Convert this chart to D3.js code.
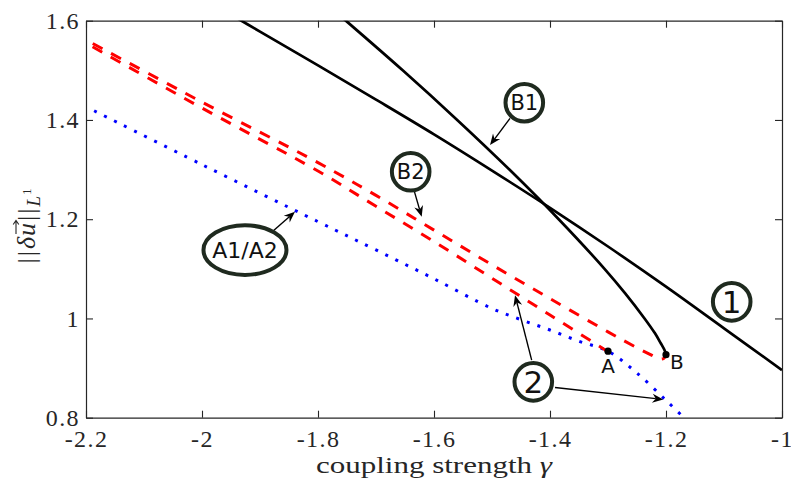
<!DOCTYPE html>
<html>
<head>
<meta charset="utf-8">
<script src="https://cdn.jsdelivr.net/npm/d3@7"></script>
<style>
  body { margin: 0; background: #fff; }
  svg { display: block; }
</style>
</head>
<body>
<svg id="chart" width="791" height="486"></svg>
<script>
// ---- Branch data: coupling strength gamma vs. L1 norm of the perturbation ----

// Branch 1 (stable, solid black, straight-ish)
const branch1Gamma = [-1.96, -1.9, -1.8, -1.7, -1.6, -1.5, -1.4, -1.3, -1.2, -1.1, -1.0];
const branch1Norm  = [1.619, 1.578, 1.510, 1.441, 1.371, 1.298, 1.223, 1.145, 1.064, 0.980, 0.896];

// Branch B1 (stable, solid black, ends in fold B)
const branchB1Gamma = [-1.772, -1.752, -1.654, -1.560, -1.470, -1.385, -1.306, -1.270, -1.237, -1.219, -1.209, -1.202, -1.200];
const branchB1Norm  = [1.620, 1.600, 1.500, 1.400, 1.300, 1.200, 1.100, 1.050, 1.000, 0.970, 0.950, 0.935, 0.928];

// Branch B2 (unstable, red dashed, leaves fold B)
const branchB2Gamma = [-2.22, -2.0, -1.8, -1.7, -1.6, -1.5, -1.4, -1.3, -1.25, -1.225, -1.212, -1.204, -1.200];
const branchB2Norm  = [1.574, 1.436, 1.314, 1.248, 1.178, 1.108, 1.040, 0.973, 0.941, 0.926, 0.9185, 0.9195, 0.927];

// Branch 2 (unstable, red dashed, ends at A)
const branch2Gamma = [-2.22, -2.0, -1.8, -1.7, -1.6, -1.5, -1.4, -1.3];
const branch2Norm  = [1.568, 1.424, 1.297, 1.226, 1.155, 1.081, 1.007, 0.933];

// Branch A1/A2 (blue dotted)
const branchAGamma = [-2.186, -2.0, -1.8, -1.7, -1.6, -1.5, -1.45, -1.4, -1.35, -1.3, -1.25, -1.2, -1.17, -1.16];
const branchANorm  = [1.4185, 1.310, 1.195, 1.138, 1.080, 1.020, 0.9975, 0.9767, 0.954, 0.934, 0.890, 0.835, 0.801, 0.789];

// Bifurcation points
const pointNames = ["A", "B"];
const pointGamma = [-1.3, -1.2];
const pointNorm  = [0.934, 0.927];

// Axis ticks
const xTicks = [-2.2, -2, -1.8, -1.6, -1.4, -1.2, -1];
const xTickLabels = ["-2.2", "-2", "-1.8", "-1.6", "-1.4", "-1.2", "-1"];
const yTicks = [0.8, 1, 1.2, 1.4, 1.6];
const yTickLabels = ["0.8", "1", "1.2", "1.4", "1.6"];

// Callout labels (data coordinates)
const calloutText   = ["B1", "B2", "A1/A2", "2", "1"];
const calloutGamma  = [-1.4443, -1.6402, -1.9259, -1.4288, -1.0867];
const calloutNorm   = [1.4347, 1.2956, 1.1377, 0.8722, 1.0335];
const calloutShape  = ["circle", "circle", "ellipse", "circle", "circle"];
const calloutSize   = [21, 21, 22, 31, 31];

// Callout arrows: start and tip in data coordinates
const arrowFromGamma = [-1.469, -1.6345, -1.877, -1.4316, -1.3914];
const arrowFromNorm  = [1.4032, 1.2587, 1.1766, 0.9159, 0.8609];
const arrowToGamma   = [-1.5034, -1.6212, -1.8397, -1.4603, -1.2047];
const arrowToNorm    = [1.3494, 1.2048, 1.2149, 1.047, 0.8367];

// ---- Layout ----
const svg = d3.select("#chart");
const plotLeft = 86, plotRight = 782, plotTop = 20.7, plotBottom = 417.7;
const serif = "'Liberation Serif', 'DejaVu Serif', serif";
const sans = "'DejaVu Sans', sans-serif";

const x = d3.scaleLinear().domain([-2.2, -1]).range([plotLeft, plotRight]);
const y = d3.scaleLinear().domain([0.8, 1.6]).range([plotBottom, plotTop]);

svg.append("defs").append("clipPath").attr("id", "plotClip")
  .append("rect").attr("x", plotLeft).attr("y", plotTop)
  .attr("width", plotRight - plotLeft).attr("height", plotBottom - plotTop);

// ---- Axes (box with inward ticks) ----
const axisColor = "#262626";
function styleAxis(g, showLabels) {
  g.selectAll(".domain").attr("stroke", axisColor).attr("stroke-width", 1.2).attr("fill", "none");
  g.selectAll(".tick line").attr("stroke", axisColor).attr("stroke-width", 1.1);
  g.selectAll(".tick text")
    .attr("fill", "#262626")
    .attr("font-family", serif)
    .attr("font-size", 24)
    .attr("letter-spacing", "1.4px")
    .style("display", showLabels ? null : "none");
}
svg.append("g").attr("transform", `translate(0,${plotBottom})`)
  .call(d3.axisBottom(x).tickValues(xTicks).tickFormat((d, i) => xTickLabels[i])
    .tickSizeInner(-7).tickSizeOuter(0).tickPadding(12))
  .call(g => styleAxis(g, true));
svg.append("g").attr("transform", `translate(0,${plotTop})`)
  .call(d3.axisTop(x).tickValues(xTicks).tickSizeInner(-7).tickSizeOuter(0))
  .call(g => styleAxis(g, false));
svg.append("g").attr("transform", `translate(${plotLeft},0)`)
  .call(d3.axisLeft(y).tickValues(yTicks).tickFormat((d, i) => yTickLabels[i])
    .tickSizeInner(-7).tickSizeOuter(0).tickPadding(6))
  .call(g => styleAxis(g, true));
svg.append("g").attr("transform", `translate(${plotRight},0)`)
  .call(d3.axisRight(y).tickValues(yTicks).tickSizeInner(-7).tickSizeOuter(0))
  .call(g => styleAxis(g, false));

// ---- Branch curves ----
const plot = svg.append("g").attr("clip-path", "url(#plotClip)");
const line = d3.line().x(d => x(d[0])).y(d => y(d[1])).curve(d3.curveCatmullRom.alpha(0.5));
const zip = (a, b) => a.map((v, i) => [v, b[i]]);

plot.append("path").datum(zip(branchAGamma, branchANorm))
  .attr("d", line).attr("fill", "none").attr("stroke", "#0000ff")
  .attr("stroke-width", 3).attr("stroke-dasharray", "3 8.2");

plot.append("path").datum(zip(branch2Gamma, branch2Norm))
  .attr("d", line).attr("fill", "none").attr("stroke", "#ff0000")
  .attr("stroke-width", 3).attr("stroke-dasharray", "11 10");

plot.append("path").datum(zip(branchB2Gamma, branchB2Norm))
  .attr("d", line).attr("fill", "none").attr("stroke", "#ff0000")
  .attr("stroke-width", 3).attr("stroke-dasharray", "11 10");

plot.append("path").datum(zip(branch1Gamma, branch1Norm))
  .attr("d", line).attr("fill", "none").attr("stroke", "#000")
  .attr("stroke-width", 2.7);

plot.append("path").datum(zip(branchB1Gamma, branchB1Norm))
  .attr("d", line).attr("fill", "none").attr("stroke", "#000")
  .attr("stroke-width", 2.7);

// Bifurcation points and their letters
pointNames.forEach((name, i) => {
  svg.append("circle").attr("cx", x(pointGamma[i])).attr("cy", y(pointNorm[i]))
    .attr("r", 3.6).attr("fill", "#000");
});
svg.append("text").attr("x", x(pointGamma[0])).attr("y", y(pointNorm[0]) + 22)
  .attr("text-anchor", "middle").attr("font-family", sans).attr("font-size", 20)
  .attr("fill", "#111").text(pointNames[0]);
svg.append("text").attr("x", x(pointGamma[1]) + 4).attr("y", y(pointNorm[1]) + 14)
  .attr("text-anchor", "start").attr("font-family", sans).attr("font-size", 20)
  .attr("fill", "#111").text(pointNames[1]);

// ---- Callouts ----
function drawArrow(x1, y1, x2, y2) {
  const ang = Math.atan2(y2 - y1, x2 - x1);
  const len = 11, half = 4.5, notch = 3.5;
  const ca = Math.cos(ang), sa = Math.sin(ang);
  const bx = x2 - len * ca, by = y2 - len * sa;
  svg.append("line").attr("x1", x1).attr("y1", y1)
    .attr("x2", x2 - (len - notch) * ca).attr("y2", y2 - (len - notch) * sa)
    .attr("stroke", "#000").attr("stroke-width", 1.4);
  const pts = [
    [x2, y2],
    [bx - half * sa, by + half * ca],
    [x2 - (len - notch) * ca, y2 - (len - notch) * sa],
    [bx + half * sa, by - half * ca]
  ];
  svg.append("path").attr("d", "M" + pts.map(p => p.join(",")).join("L") + "Z")
    .attr("fill", "#000");
}
arrowFromGamma.forEach((g, i) => {
  drawArrow(x(g), y(arrowFromNorm[i]), x(arrowToGamma[i]), y(arrowToNorm[i]));
});

const ringColor = "#1f2a1f";
calloutText.forEach((t, i) => {
  const cx = x(calloutGamma[i]), cy = y(calloutNorm[i]);
  if (calloutShape[i] === "ellipse") {
    svg.append("ellipse").attr("cx", cx).attr("cy", cy).attr("rx", 41.5).attr("ry", 24.8)
      .attr("fill", "#fff").attr("stroke", ringColor).attr("stroke-width", 4);
  } else {
    svg.append("circle").attr("cx", cx).attr("cy", cy).attr("r", 18.8)
      .attr("fill", "#fff").attr("stroke", ringColor).attr("stroke-width", 4);
  }
  svg.append("text").attr("x", cx).attr("y", cy).attr("dy", "0.36em")
    .attr("text-anchor", "middle").attr("font-family", sans)
    .attr("font-size", calloutSize[i]).attr("fill", "#111").text(t);
});

// ---- Axis titles ----
const xTitle = svg.append("text").attr("x", (plotLeft + plotRight) / 2).attr("y", 473)
  .attr("text-anchor", "middle").attr("font-family", serif).attr("font-size", 24)
  .attr("fill", "#262626")
  .attr("textLength", 236).attr("lengthAdjust", "spacingAndGlyphs");
xTitle.append("tspan").text("coupling strength ");
xTitle.append("tspan").attr("font-style", "italic").text("γ");

const yTitleG = svg.append("g").attr("transform", "translate(35,226) rotate(-90)");
const yTitle = yTitleG.append("text").attr("text-anchor", "middle")
  .attr("font-family", serif).attr("font-size", 26).attr("fill", "#262626");
yTitle.append("tspan").attr("letter-spacing", "2px").text("||");
yTitle.append("tspan").attr("font-style", "italic").text("δ");
yTitle.append("tspan").attr("font-style", "italic").attr("dx", 1).text("u");
yTitle.append("tspan").attr("letter-spacing", "2px").attr("dx", 2).text("||");
yTitle.append("tspan").attr("font-style", "italic").attr("font-size", 19).attr("dy", 5).text("L");
yTitle.append("tspan").attr("font-size", 13).attr("dy", -9).attr("dx", 1).text("1");
// vector arrow over the italic u (character index 3)
const uStart = yTitle.node().getStartPositionOfChar(3);
const uEnd = yTitle.node().getEndPositionOfChar(3);
const ax0 = uStart.x + 2, ax1 = uEnd.x + 2.5, ay = -19;
yTitleG.append("path")
  .attr("d", `M${ax0},${ay}L${ax1},${ay}M${ax1 - 4},${ay - 2.8}L${ax1},${ay}L${ax1 - 4},${ay + 2.8}`)
  .attr("fill", "none").attr("stroke", "#262626").attr("stroke-width", 1.1);
</script>
</body>
</html>
